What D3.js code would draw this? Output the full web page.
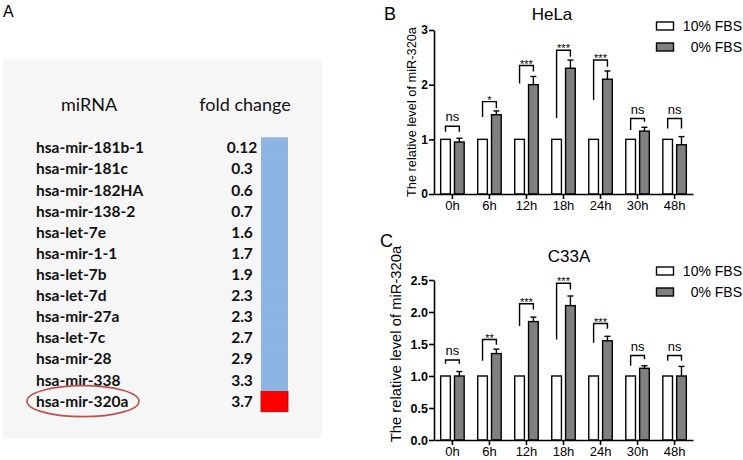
<!DOCTYPE html>
<html><head><meta charset="utf-8">
<script src="https://cdn.jsdelivr.net/npm/d3@7"></script>
<style>body{margin:0;background:#fff}svg{display:block}</style>
</head><body>
<svg id="c" width="743" height="460"></svg>
<script>
// ---------- Panel A data ----------
const mirnas = ["hsa-mir-181b-1","hsa-mir-181c","hsa-mir-182HA","hsa-mir-138-2","hsa-let-7e","hsa-mir-1-1","hsa-let-7b","hsa-let-7d","hsa-mir-27a","hsa-let-7c","hsa-mir-28","hsa-mir-338","hsa-mir-320a"];
const foldChange = [0.12,0.3,0.6,0.7,1.6,1.7,1.9,2.3,2.3,2.7,2.9,3.3,3.7];
const foldLabels = ["0.12","0.3","0.6","0.7","1.6","1.7","1.9","2.3","2.3","2.7","2.9","3.3","3.7"];
const highlighted = ["hsa-mir-320a"];

// ---------- Panels B / C data ----------
const times = ["0h","6h","12h","18h","24h","30h","48h"];
const groups = ["10% FBS","0% FBS"];

const helaCtrl  = [1,1,1,1,1,1,1];
const helaStarv = [0.95,1.45,2.0,2.3,2.1,1.15,0.9];
const helaErr   = [0.07,0.07,0.15,0.15,0.15,0.07,0.15];
const helaSig   = ["ns","*","***","***","***","ns","ns"];
const helaBrTop   = [1.24,1.69,2.35,2.63,2.45,1.38,1.38];
const helaBrLeft  = [1.14,1.41,2.02,1.39,1.72,1.17,1.20];
const helaBrRight = [1.14,1.57,2.24,2.51,2.33,1.32,1.20];
const helaTicks = [0,1,2,3];

const c33Ctrl  = [1,1,1,1,1,1,1];
const c33Starv = [1.0,1.35,1.85,2.1,1.55,1.12,1.0];
const c33Err   = [0.07,0.07,0.07,0.15,0.07,0.04,0.15];
const c33Sig   = ["ns","**","***","***","***","ns","ns"];
const c33BrTop   = [1.25,1.57,2.13,2.45,1.82,1.32,1.32];
const c33BrLeft  = [1.19,1.24,1.78,1.57,1.52,1.16,1.24];
const c33BrRight = [1.19,1.49,2.04,2.35,1.74,1.26,1.24];
const c33Ticks = [0,0.5,1.0,1.5,2.0,2.5];

const svg = d3.select("#c");
const ARIAL = "'Liberation Sans', Arial, sans-serif";
const CAL = "Lato, 'Open Sans', sans-serif";

// ================= Panel A =================
svg.append("text").attr("x",3).attr("y",17).attr("font-family",ARIAL).attr("font-size",16).text("A");
svg.append("rect").attr("x",3).attr("y",59).attr("width",319).attr("height",379).attr("fill","#f6f6f6");
svg.append("text").attr("x",89).attr("y",111).attr("text-anchor","middle").attr("font-family",CAL).attr("font-size",18).attr("fill","#111").text("miRNA");
svg.append("text").attr("x",245).attr("y",111).attr("text-anchor","middle").attr("font-family",CAL).attr("font-size",18).attr("fill","#111").text("fold change");

const rowY = d3.scaleBand().domain(mirnas).range([137.3,411.7]).padding(0);
const rows = svg.append("g");
rows.selectAll("text.name").data(mirnas).join("text").attr("class","name")
  .attr("x",36).attr("y",d=>rowY(d)+rowY.bandwidth()/2+5.5)
  .attr("font-family",CAL).attr("font-weight","bold").attr("font-size",15.5).attr("fill","#111").text(d=>d);
rows.selectAll("text.val").data(foldLabels).join("text").attr("class","val")
  .attr("x",242).attr("y",(d,i)=>rowY(mirnas[i])+rowY.bandwidth()/2+5.5).attr("text-anchor","middle")
  .attr("font-family",CAL).attr("font-weight","bold").attr("font-size",15.5).attr("fill","#111").text(d=>d);
rows.selectAll("rect.cell").data(mirnas).join("rect").attr("class","cell")
  .attr("x",261).attr("width",27)
  .attr("y",d=>highlighted.includes(d)? rowY(d)+1 : rowY(d))
  .attr("height",d=>highlighted.includes(d)? rowY.bandwidth()-1 : rowY.bandwidth()+0.5)
  .attr("fill",d=>highlighted.includes(d)?"#ff0000":"#8eb4e3")
  .attr("stroke",d=>highlighted.includes(d)?"#b00000":"none").attr("stroke-width",0.8);
highlighted.forEach(h=>{
  svg.append("ellipse").attr("cx",83).attr("cy",rowY(h)+rowY.bandwidth()/2).attr("rx",56).attr("ry",15.5)
    .attr("fill","none").attr("stroke","#c0504d").attr("stroke-width",1.6);
});

// ================= Bar panels =================
function barPanel(o){
  const g = svg.append("g");
  const x0 = d3.scaleBand().domain(times).range([434,693]).paddingInner(0.365).paddingOuter(0.18);
  const x1 = d3.scaleBand().domain(groups).range([0,x0.bandwidth()]).paddingInner(0.3);
  const y = d3.scaleLinear().domain([0,o.max]).range([o.y0,o.y1]);

  g.append("text").attr("x",o.lx).attr("y",o.ly).attr("font-family",ARIAL).attr("font-size",18).text(o.letter);
  g.append("text").attr("x",o.tx).attr("y",o.ty).attr("text-anchor","middle").attr("font-family",ARIAL).attr("font-size",17).text(o.title);

  const ctrlCol = "#ffffff", starvCol = "#808080";
  g.selectAll("rect.c").data(o.ctrl).join("rect").attr("class","c")
    .attr("x",(d,i)=>x0(times[i])+x1(groups[0])).attr("width",x1.bandwidth())
    .attr("y",d=>y(d)).attr("height",d=>y(0)-y(d)).attr("fill",ctrlCol).attr("stroke","#000").attr("stroke-width",1.4);
  const eg = g.append("g").attr("stroke","#000").attr("stroke-width",1.4);
  o.starv.forEach((v,i)=>{
    const cx = x0(times[i])+x1(groups[1])+x1.bandwidth()/2;
    eg.append("line").attr("x1",cx).attr("x2",cx).attr("y1",y(v)).attr("y2",y(v+o.err[i]));
    eg.append("line").attr("x1",cx-3).attr("x2",cx+3).attr("y1",y(v+o.err[i])).attr("y2",y(v+o.err[i]));
  });
  g.selectAll("rect.s").data(o.starv).join("rect").attr("class","s")
    .attr("x",(d,i)=>x0(times[i])+x1(groups[1])).attr("width",x1.bandwidth())
    .attr("y",d=>y(d)).attr("height",d=>y(0)-y(d)).attr("fill",starvCol).attr("stroke","#000").attr("stroke-width",1.4);

  const bg = g.append("g");
  o.sig.forEach((s,i)=>{
    const xl = x0(times[i])+x1(groups[0])+x1.bandwidth()/2;
    const xr = x0(times[i])+x1(groups[1])+x1.bandwidth()/2;
    const yt = y(o.brTop[i]);
    bg.append("path").attr("d",`M${xl},${y(o.brLeft[i])}V${yt}H${xr}V${y(o.brRight[i])}`)
      .attr("fill","none").attr("stroke","#000").attr("stroke-width",1.4);
    const isNs = s==="ns";
    bg.append("text").attr("x",(xl+xr)/2).attr("y", isNs ? yt-5 : yt+2).attr("text-anchor","middle")
      .attr("font-family",ARIAL).attr("font-size", isNs?13:11).text(s);
  });

  const ya = g.append("g").attr("transform",`translate(434,0)`)
    .call(d3.axisLeft(y).tickValues(o.ticks).tickFormat(o.fmt).tickSize(5).tickSizeOuter(0));
  ya.select(".domain").attr("stroke-width",1.6);
  ya.selectAll(".tick line").attr("stroke-width",1.6);
  ya.selectAll("text").attr("font-family",ARIAL).attr("font-weight","bold").attr("font-size",o.tickFs).attr("fill","#000").attr("x",-6);
  const xa = g.append("g").attr("transform",`translate(0,${o.y0})`)
    .call(d3.axisBottom(x0).tickSize(5).tickSizeOuter(0));
  xa.select(".domain").attr("stroke-width",1.6);
  xa.selectAll(".tick line").attr("stroke-width",1.6);
  xa.selectAll("text").attr("font-family",ARIAL).attr("font-size",13).attr("fill","#000").attr("y",7).attr("dy","0.71em");

  g.append("text").attr("transform",`translate(${o.ytx},${o.yty}) rotate(-90)`).attr("text-anchor","middle")
    .attr("font-family",ARIAL).attr("font-size",o.ytFs).text("The relative level of miR-320a");

  const lg = g.append("g");
  groups.forEach((gr,i)=>{
    const ly = o.legY + i*21;
    lg.append("rect").attr("x",656.5).attr("y",ly).attr("width",17).attr("height",8)
      .attr("fill", i===0?ctrlCol:starvCol).attr("stroke","#000").attr("stroke-width",1.4);
    lg.append("text").attr("x",742).attr("y",ly+9).attr("text-anchor","end")
      .attr("font-family",ARIAL).attr("font-size",14).text(gr);
  });
}

barPanel({letter:"B",lx:384,ly:20,title:"HeLa",tx:552,ty:20,max:3,y0:194,y1:30,
  ctrl:helaCtrl,starv:helaStarv,err:helaErr,sig:helaSig,brTop:helaBrTop,brLeft:helaBrLeft,brRight:helaBrRight,
  ticks:helaTicks,fmt:d3.format("d"),tickFs:12,ytx:416,yty:112,ytFs:12.8,legY:22});
barPanel({letter:"C",lx:380,ly:247,title:"C33A",tx:569,ty:262,max:2.5,y0:440,y1:280,
  ctrl:c33Ctrl,starv:c33Starv,err:c33Err,sig:c33Sig,brTop:c33BrTop,brLeft:c33BrLeft,brRight:c33BrRight,
  ticks:c33Ticks,fmt:d3.format(".1f"),tickFs:12.5,ytx:401,yty:344,ytFs:14.8,legY:267});
</script>
</body></html>
